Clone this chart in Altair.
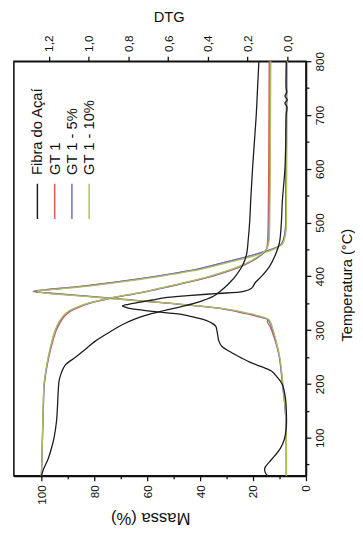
import altair as alt
import pandas as pd

# ---------------- data ----------------
series_names = ["Fibra do Açaí", "GT 1", "GT 1 - 5%", "GT 1 - 10%"]
series_colors = ["#1c1c1c", "#dc5a56", "#6a6ad0", "#abc25a"]

# TG (Massa %) vs temperature
fib_tg_T = [29, 40, 50, 60, 70, 84, 100, 130, 160, 190, 206, 220, 235, 250, 266, 280, 297, 310, 320, 327,
            336, 345, 355, 363, 372, 380, 390, 400, 420, 440, 470, 500, 550, 600, 650, 700, 750, 800]
fib_tg_M = [100, 99.3, 98.4, 97.5, 96.8, 96, 95.2, 94.3, 93.9, 93.6, 93.3, 92.5, 91, 87, 83, 79.5, 74, 69.5, 65, 61,
            54, 46, 39, 35, 32.5, 30.5, 28.5, 26.7, 24, 22.5, 21.8, 21.3, 20.8, 20.2, 19.5, 18.8, 18.3, 17.8]

gt_tg_T = [29, 60, 100, 150, 200, 235, 266, 297, 315, 327, 335, 340, 345, 350, 354, 360, 365, 370, 375, 380,
           390, 400, 410, 420, 430, 440, 450, 460, 480, 500, 600, 700, 800]
gt1_tg_M = [100, 99.8, 99.6, 99.3, 98.9, 97.8, 96.4, 94.6, 92.8, 91.0, 89.0, 87.0, 84.5, 81.5, 78.5, 73.0, 67.5,
            61.5, 57.0, 52.5, 43.5, 35.5, 29.0, 23.8, 19.8, 16.8, 15.0, 14.6, 14.4, 14.3, 14.1, 14.0, 13.9]
gt5_tg_M = [100, 99.8, 99.6, 99.3, 98.9, 97.9, 96.6, 94.9, 93.2, 91.5, 89.5, 87.5, 85.0, 82.0, 79.0, 73.5, 68.0,
            62.0, 57.5, 53.0, 44.0, 36.0, 29.5, 24.2, 20.0, 16.9, 14.9, 14.3, 14.0, 13.9, 13.7, 13.6, 13.5]
gt10_tg_M = [100, 99.8, 99.6, 99.4, 99.0, 98.0, 96.7, 95.0, 93.4, 91.7, 89.8, 87.8, 85.3, 82.3, 79.2, 73.8, 68.2,
             62.2, 57.8, 53.3, 44.4, 36.5, 30.0, 24.6, 20.4, 17.2, 15.0, 14.2, 13.8, 13.7, 13.5, 13.4, 13.3]

# DTG vs temperature
fib_dtg_T = [29, 36, 44, 55, 66, 80, 97, 120, 150, 175, 199, 212, 224, 232, 239, 248, 258, 270, 280, 290, 300,
             307, 313, 318, 324, 330, 334, 338, 342, 345, 348, 352, 356, 360, 364, 368, 372, 378, 389, 400, 418,
             440, 462, 500, 540, 600, 650, 700, 715, 722, 728, 735, 742, 750, 800]
fib_dtg_D = [0.10, 0.112, 0.113, 0.09, 0.064, 0.035, 0.015, 0.005, 0.005, 0.01, 0.025, 0.05, 0.08, 0.13, 0.18,
             0.23, 0.28, 0.33, 0.345, 0.35, 0.355, 0.36, 0.38, 0.41, 0.47, 0.55, 0.655, 0.75, 0.81, 0.83, 0.8,
             0.74, 0.68, 0.62, 0.5, 0.36, 0.22, 0.18, 0.16, 0.13, 0.09, 0.06, 0.04, 0.03, 0.025, 0.012, 0.008,
             0.006, 0.002, 0.012, 0.0, 0.012, 0.003, 0.006, 0.005]

gt_dtg_T = [29, 60, 100, 150, 200, 250, 285, 305, 315, 320, 325, 330, 334, 340, 345, 350, 355, 360, 365, 369,
            372, 375, 380, 388, 400, 410, 420, 430, 440, 450, 460, 480, 550, 650, 800]
gt1_dtg_D = [0.005, 0.005, 0.005, 0.01, 0.025, 0.04, 0.065, 0.085, 0.1, 0.1, 0.15, 0.2, 0.25, 0.33, 0.45, 0.6,
             0.75, 0.9, 1.07, 1.2, 1.28, 1.22, 1.08, 0.9, 0.66, 0.5, 0.38, 0.27, 0.17, 0.08, 0.03, 0.012, 0.008,
             0.005, 0.004]
gt5_dtg_D = [0.005, 0.005, 0.006, 0.01, 0.024, 0.04, 0.062, 0.08, 0.09, 0.1, 0.14, 0.19, 0.24, 0.33, 0.45, 0.6,
             0.76, 0.92, 1.08, 1.21, 1.27, 1.21, 1.07, 0.89, 0.66, 0.5, 0.38, 0.27, 0.17, 0.08, 0.03, 0.012,
             0.008, 0.005, 0.004]
gt10_dtg_D = [0.004, 0.004, 0.005, 0.01, 0.022, 0.038, 0.06, 0.075, 0.085, 0.095, 0.13, 0.18, 0.23, 0.32, 0.44,
              0.6, 0.76, 0.93, 1.1, 1.22, 1.26, 1.2, 1.05, 0.87, 0.64, 0.48, 0.36, 0.25, 0.15, 0.07, 0.025, 0.008,
              0.004, 0.002, 0.0]

mass_ticks = [0, 10, 20, 30, 40, 50, 60, 70, 80, 90, 100]
dtg_ticks = [0.0, 0.2, 0.4, 0.6, 0.8, 1.0, 1.2]
temp_ticks = [50, 100, 150, 200, 250, 300, 350, 400, 450, 500, 550, 600, 650, 700, 750, 800]

# ---------------- tables ----------------
def table(name, T, V, col):
    return pd.DataFrame({"serie": name, "T": T, col: V})

tg = pd.concat([
    table(series_names[1], gt_tg_T, gt1_tg_M, "M"),
    table(series_names[2], gt_tg_T, gt5_tg_M, "M"),
    table(series_names[3], gt_tg_T, gt10_tg_M, "M"),
    table(series_names[0], fib_tg_T, fib_tg_M, "M"),
], ignore_index=True)
dtg = pd.concat([
    table(series_names[1], gt_dtg_T, gt1_dtg_D, "D"),
    table(series_names[2], gt_dtg_T, gt5_dtg_D, "D"),
    table(series_names[3], gt_dtg_T, gt10_dtg_D, "D"),
    table(series_names[0], fib_dtg_T, fib_dtg_D, "D"),
], ignore_index=True)

# legend layout (pixels inside the plot area)
leg = pd.DataFrame({"serie": series_names})
leg["px"] = [24 + 17.6 * i for i in range(len(series_names))]

FONT = "Liberation Sans"
W, H = 298, 423
T_DOM = [29, 800]
M_DOM = [0, 110.4]
D_DOM = [-0.094, 1.377]

color = alt.Color("serie:N", scale=alt.Scale(domain=series_names, range=series_colors), legend=None)
temp_axis = alt.Axis(
    orient="right", values=temp_ticks,
    labelExpr="datum.value % 100 == 0 ? datum.label : ''",
    tickSize={"condition": {"test": "datum.value % 100 != 0", "value": 3}, "value": 5},
    labelAngle=270, labelAlign="center", labelBaseline="top", labelPadding=4,
    labelOverlap=False, labelFlush=False,
    title="Temperatura  (°C)", titleAngle=270, titleX=41, titleY=228,
    titleAlign="center", titleBaseline="middle", titleFontSize=15,
)
y_enc = alt.Y("T:Q", scale=alt.Scale(domain=T_DOM, nice=False, zero=False), axis=temp_axis)

tg_layer = alt.Chart(tg).mark_line(strokeWidth=1.3, interpolate="catmull-rom").encode(
    x=alt.X("M:Q", scale=alt.Scale(domain=M_DOM, reverse=True, nice=False, zero=False),
            axis=alt.Axis(orient="bottom", values=mass_ticks,
                          labelExpr="datum.value % 20 == 0 ? datum.label : ''",
                          tickSize={"condition": {"test": "datum.value % 20 != 0", "value": 3}, "value": 5},
                          labelAngle=270, labelAlign="right", labelBaseline="middle", labelPadding=4,
                          labelOverlap=False, labelFlush=False,
                          title="Massa (%)", titleAngle=180, titleX=139, titleY=42,
                          titleAlign="center", titleBaseline="middle", titleFontSize=17)),
    y=y_enc,
    color=color,
    detail="serie:N",
    order=alt.Order("T:Q"),
)

dtg_layer = alt.Chart(dtg).mark_line(strokeWidth=1.3, interpolate="catmull-rom").encode(
    x=alt.X("D:Q", scale=alt.Scale(domain=D_DOM, reverse=True, nice=False, zero=False),
            axis=alt.Axis(orient="top", values=dtg_ticks,
                          labelExpr="replace(format(datum.value, '.1f'), '.', ',')",
                          tickSize=5, labelAngle=270, labelAlign="left", labelBaseline="middle",
                          labelPadding=5, labelOverlap=False, labelFlush=False,
                          title="DTG", titleAngle=0, titleX=158, titleY=-46,
                          titleAlign="center", titleBaseline="middle", titleFontSize=15)),
    y=y_enc,
    color=color,
    detail="serie:N",
    order=alt.Order("T:Q"),
)

leg_lines = alt.Chart(leg).mark_rule(strokeWidth=1.5).encode(
    x=alt.X("px:Q", scale=None, axis=None),
    y=alt.value(125), y2=alt.value(161),
    color=color,
)
leg_text = alt.Chart(leg).mark_text(angle=270, align="left", baseline="middle",
                                     fontSize=15, font=FONT, color="#111").encode(
    x=alt.X("px:Q", scale=None, axis=None),
    y=alt.value(116),
    text="serie:N",
)

chart = alt.layer(dtg_layer, tg_layer, leg_lines, leg_text).resolve_scale(
    x="independent"
).properties(
    width=W, height=H,
    autosize=alt.AutoSizeParams(type="none"),
    padding={"left": 6, "top": 49, "right": 50, "bottom": 53},
).configure_view(
    stroke="#111", strokeWidth=1.6
).configure_axis(
    domainColor="#111", domainWidth=1.6, tickColor="#111", tickWidth=1.3,
    labelFont=FONT, labelFontSize=12, labelColor="#111",
    titleFont=FONT, titleFontWeight="normal", titleColor="#111",
    grid=False,
)

chart.save("out.html", embed_options={"renderer": "svg", "actions": False})
